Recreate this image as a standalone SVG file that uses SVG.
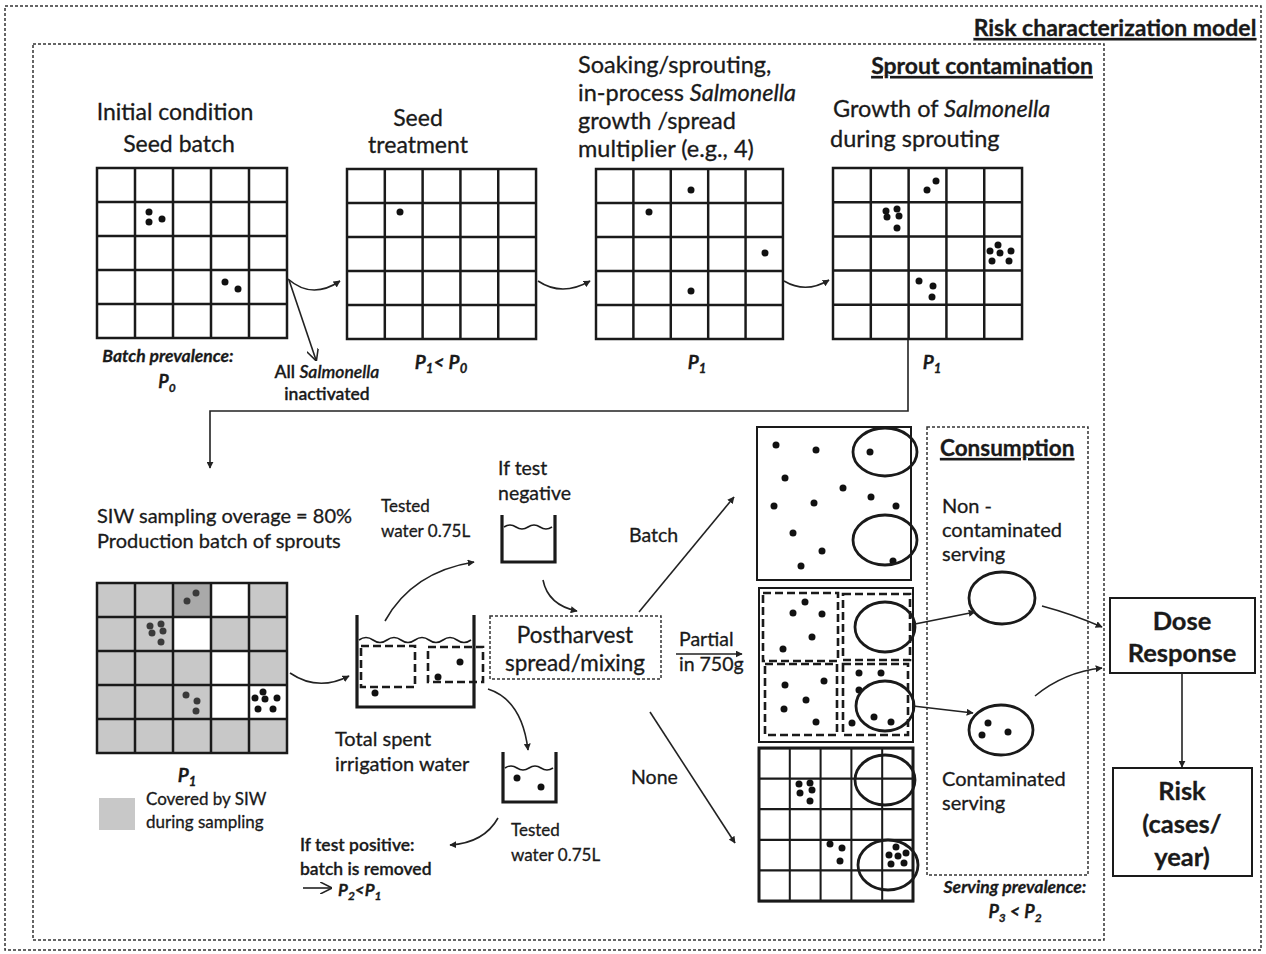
<svg xmlns="http://www.w3.org/2000/svg" width="1266" height="954" viewBox="0 0 1266 954">
<style>
text{font-family:Lato,"Liberation Sans",sans-serif;fill:#1a1a1a;stroke:#1a1a1a;stroke-width:0.3}
.t23{font-size:23.5px}
.t20{font-size:20px}
.t19{font-size:19.5px}
.t17{font-size:17px}
.bi{font-weight:bold;font-style:italic}
.b{font-weight:bold}
.sb{font-weight:600}
.it{font-style:italic}
.c{text-anchor:middle}
.u{text-decoration:underline}
.grid{fill:none;stroke:#1a1a1a;stroke-width:2.5}
.dot{fill:#111}
.gdot{fill:#3a3a3a}
.conn{fill:none;stroke:#222;stroke-width:1.6}
.dash{fill:none;stroke:#333;stroke-width:1.5;stroke-dasharray:3 2}
.bdash{fill:none;stroke:#1a1a1a;stroke-width:2.6;stroke-dasharray:8 4}
.ell{fill:none;stroke:#1a1a1a;stroke-width:2.8}
.wall{fill:none;stroke:#1a1a1a;stroke-width:3.2}
.wave{fill:none;stroke:#1a1a1a;stroke-width:1.6}
.box{fill:#fff;stroke:#1a1a1a;stroke-width:2}
.gray{fill:#c8c8c8}
</style>
<defs>
<marker id="arr" viewBox="0 0 10 10" refX="9" refY="5" markerWidth="7" markerHeight="7" orient="auto" markerUnits="userSpaceOnUse">
<path d="M0,0 L10,5 L0,10 z" fill="#222"/>
</marker>
<marker id="arrV" viewBox="0 0 10 10" refX="9" refY="5" markerWidth="12" markerHeight="12" orient="auto" markerUnits="userSpaceOnUse">
<path d="M0,0 L10,5 L0,10" fill="none" stroke="#222" stroke-width="1.3"/>
</marker>
<path id="g5" d="M0,0 H190 V170 H0 Z M38,0 V170 M76,0 V170 M114,0 V170 M152,0 V170 M0,34 H190 M0,68 H190 M0,102 H190 M0,136 H190"/>
</defs>
<rect width="1266" height="954" fill="#fff"/>

<g id="frames">
<rect x="5" y="6" width="1256" height="944" class="dash"/>
<rect x="33" y="44" width="1071" height="896" class="dash"/>
<text x="1115" y="36" class="b c u" font-size="23">Risk characterization model</text>
<text x="982" y="74" class="b c u" font-size="23">Sprout contamination</text>
</g>

<g id="initial">
<text x="175" y="120" class="c" font-size="23">Initial condition</text>
<text x="179" y="152" class="c" font-size="23">Seed batch</text>
<use href="#g5" class="grid" transform="translate(97,168)"/>
<circle cx="149" cy="212" r="3.5" class="dot"/><circle cx="149" cy="222" r="3.5" class="dot"/><circle cx="162" cy="219" r="3.5" class="dot"/>
<circle cx="225" cy="282" r="3.5" class="dot"/><circle cx="238" cy="289" r="3.5" class="dot"/>
<text x="168" y="362" class="bi c" font-size="17.5">Batch prevalence:</text>
<text x="167" y="388" class="bi c" font-size="18">P<tspan font-size="12" dy="4">0</tspan></text>
</g>

<g id="inactivated">
<text x="327" y="378" class="sb c" font-size="17.5">All <tspan class="it">Salmonella</tspan></text>
<text x="327" y="400" class="sb c" font-size="17.5">inactivated</text>
</g>

<g id="seed-treatment">
<text x="418" y="126" class="c" font-size="23">Seed</text>
<text x="418" y="153" class="c" font-size="23">treatment</text>
<use href="#g5" class="grid" transform="translate(347,169) scale(0.995,1)"/>
<circle cx="400" cy="212" r="3.5" class="dot"/>
<text x="441" y="369" class="bi c" font-size="19">P<tspan font-size="13" dy="4">1</tspan><tspan dy="-4">&lt; P</tspan><tspan font-size="13" dy="4">0</tspan></text>
</g>

<g id="soaking">
<text x="578" y="73" class="t23">Soaking/sprouting,</text>
<text x="578" y="101" class="t23">in-process <tspan class="it">Salmonella</tspan></text>
<text x="578" y="129" class="t23">growth /spread</text>
<text x="578" y="157" class="t23">multiplier (e.g., 4)</text>
<use href="#g5" class="grid" transform="translate(596,169) scale(0.984,1)"/>
<circle cx="691" cy="190" r="3.5" class="dot"/><circle cx="649" cy="212" r="3.5" class="dot"/>
<circle cx="765" cy="253" r="3.5" class="dot"/><circle cx="691" cy="291" r="3.5" class="dot"/>
<text x="697" y="369" class="bi c" font-size="19">P<tspan font-size="13" dy="4">1</tspan></text>
</g>

<g id="growth">
<text x="833" y="117" class="t23">Growth of <tspan class="it">Salmonella</tspan></text>
<text x="830" y="147" class="t23">during sprouting</text>
<use href="#g5" class="grid" transform="translate(833,168) scale(0.995,1.006)"/>
<circle cx="927" cy="190" r="3.5" class="dot"/><circle cx="936" cy="181" r="3.5" class="dot"/>
<circle cx="886" cy="211" r="3.5" class="dot"/><circle cx="897" cy="209" r="3.5" class="dot"/><circle cx="887" cy="217" r="3.5" class="dot"/><circle cx="899" cy="216" r="3.5" class="dot"/><circle cx="897" cy="228" r="3.5" class="dot"/>
<circle cx="998" cy="245" r="3.5" class="dot"/><circle cx="990" cy="251" r="3.5" class="dot"/><circle cx="1000" cy="253" r="3.5" class="dot"/><circle cx="1011" cy="251" r="3.5" class="dot"/><circle cx="992" cy="261" r="3.5" class="dot"/><circle cx="1009" cy="261" r="3.5" class="dot"/>
<circle cx="919" cy="281" r="3.5" class="dot"/><circle cx="933" cy="286" r="3.5" class="dot"/><circle cx="932" cy="297" r="3.5" class="dot"/>
<text x="932" y="369" class="bi c" font-size="19">P<tspan font-size="13" dy="4">1</tspan></text>
</g>

<g id="siw-batch">
<text x="97" y="523" class="t20">SIW sampling overage = 80%</text>
<text x="97" y="548" class="t20">Production batch of sprouts</text>
<rect x="97" y="583" width="190" height="170" class="gray"/>
<rect x="211" y="583" width="38" height="34" fill="#fff"/>
<rect x="173" y="617" width="38" height="34" fill="#fff"/>
<rect x="211" y="651" width="38" height="34" fill="#fff"/>
<rect x="211" y="685" width="76" height="34" fill="#fff"/>
<rect x="173" y="583" width="38" height="34" fill="#a9a9a9"/>
<use href="#g5" class="grid" transform="translate(97,583)"/>
<circle cx="196" cy="593" r="3.5" class="gdot"/><circle cx="187" cy="601" r="3.5" class="gdot"/>
<circle cx="150" cy="626" r="3.5" class="gdot"/><circle cx="161" cy="624" r="3.5" class="gdot"/><circle cx="152" cy="633" r="3.5" class="gdot"/><circle cx="163" cy="631" r="3.5" class="gdot"/><circle cx="161" cy="642" r="3.5" class="gdot"/>
<circle cx="186" cy="695" r="3.5" class="gdot"/><circle cx="197" cy="701" r="3.5" class="gdot"/><circle cx="196" cy="711" r="3.5" class="gdot"/>
<circle cx="263" cy="692" r="3.5" class="dot"/><circle cx="255" cy="698" r="3.5" class="dot"/><circle cx="265" cy="699" r="3.5" class="dot"/><circle cx="277" cy="698" r="3.5" class="dot"/><circle cx="258" cy="709" r="3.5" class="dot"/><circle cx="273" cy="709" r="3.5" class="dot"/>
<text x="187" y="782" class="bi c" font-size="19">P<tspan font-size="13" dy="4">1</tspan></text>
<rect x="99" y="798" width="36" height="32" class="gray"/>
<text x="146" y="805" class="t17">Covered by SIW</text>
<text x="146" y="828" class="t17">during sampling</text>
</g>

<g id="tank">
<rect x="361" y="646" width="54" height="41" class="bdash" stroke-width="2"/>
<rect x="428" y="647" width="55" height="35" class="bdash" stroke-width="2"/>
<path d="M357,615 V707 H474 V615" class="wall"/>
<path d="M359,640 q7,-5 14,0 t14,0 t14,0 t14,0 t14,0 t14,0 t14,0 t14,0" class="wave"/>
<circle cx="375" cy="693" r="3.5" class="dot"/><circle cx="460" cy="662" r="3.5" class="dot"/><circle cx="438" cy="677" r="3.5" class="dot"/>
<text x="335" y="746" class="t20">Total spent</text>
<text x="335" y="771" class="t20">irrigation water</text>
<text x="381" y="512" class="t17">Tested</text>
<text x="381" y="537" class="t17">water 0.75L</text>
</g>

<g id="beaker-negative">
<text x="498" y="475" class="t19">If test</text>
<text x="498" y="500" class="t19">negative</text>
<path d="M502,515 V562 H555 V515" class="wall"/>
<path d="M504,527 q6,-4 12,0 t12,0 t12,0 t12,0" class="wave"/>
</g>

<g id="beaker-positive">
<path d="M503,752 V802 H556 V752" class="wall"/>
<path d="M505,768 q6,-4 12,0 t12,0 t12,0 t12,0" class="wave"/>
<circle cx="517" cy="778" r="3.5" class="dot"/><circle cx="541" cy="787" r="3.5" class="dot"/>
<text x="511" y="836" class="t17">Tested</text>
<text x="511" y="861" class="t17">water 0.75L</text>
<text x="300" y="851" class="sb" font-size="17.5">If test positive:</text>
<text x="300" y="875" class="sb" font-size="17.5">batch is removed</text>
<text x="338" y="896" class="bi" font-size="17">P<tspan font-size="12" dy="4">2</tspan><tspan dy="-4">&lt;P</tspan><tspan font-size="12" dy="4">1</tspan></text>
</g>

<g id="postharvest">
<rect x="490" y="616" width="171" height="63" class="dash" fill="#fff"/>
<text x="575" y="643" class="c" font-size="22.5">Postharvest</text>
<text x="575" y="671" class="c" font-size="22.5">spread/mixing</text>
<text x="629" y="542" class="t19">Batch</text>
<text x="679" y="646" class="t19">Partial</text>
<text x="679" y="671" class="t19">in 750g</text>
<text x="631" y="784" class="t19">None</text>
</g>

<g id="box-batch">
<rect x="757" y="427" width="154" height="153" class="box" stroke-width="3"/>
<circle cx="776" cy="445" r="3.5" class="dot"/><circle cx="816" cy="450" r="3.5" class="dot"/><circle cx="785" cy="478" r="3.5" class="dot"/><circle cx="843" cy="488" r="3.5" class="dot"/><circle cx="871" cy="497" r="3.5" class="dot"/><circle cx="896" cy="506" r="3.5" class="dot"/><circle cx="774" cy="506" r="3.5" class="dot"/><circle cx="814" cy="503" r="3.5" class="dot"/><circle cx="793" cy="533" r="3.5" class="dot"/><circle cx="822" cy="551" r="3.5" class="dot"/><circle cx="801" cy="566" r="3.5" class="dot"/><circle cx="870" cy="452" r="3.5" class="dot"/><circle cx="893" cy="561" r="3.5" class="dot"/>
<ellipse cx="885" cy="452" rx="32" ry="24" class="ell"/>
<ellipse cx="885" cy="540" rx="32" ry="25" class="ell"/>
</g>

<g id="box-partial">
<rect x="759" y="588" width="154" height="154" class="box" stroke-width="3"/>
<rect x="763" y="593" width="75" height="68" class="bdash"/>
<rect x="843" y="594" width="67" height="66" class="bdash"/>
<rect x="765" y="664" width="72" height="71" class="bdash"/>
<rect x="843" y="664" width="65" height="71" class="bdash"/>
<circle cx="805" cy="602" r="3.5" class="dot"/><circle cx="793" cy="613" r="3.5" class="dot"/><circle cx="822" cy="614" r="3.5" class="dot"/><circle cx="812" cy="637" r="3.5" class="dot"/><circle cx="783" cy="649" r="3.5" class="dot"/>
<circle cx="824" cy="681" r="3.5" class="dot"/><circle cx="785" cy="685" r="3.5" class="dot"/><circle cx="806" cy="700" r="3.5" class="dot"/><circle cx="784" cy="709" r="3.5" class="dot"/><circle cx="816" cy="722" r="3.5" class="dot"/>
<circle cx="859" cy="673" r="3.5" class="dot"/><circle cx="881" cy="673" r="3.5" class="dot"/><circle cx="859" cy="690" r="3.5" class="dot"/><circle cx="852" cy="723" r="3.5" class="dot"/><circle cx="874" cy="717" r="3.5" class="dot"/><circle cx="891" cy="722" r="3.5" class="dot"/>
<ellipse cx="885" cy="627" rx="30" ry="25" class="ell"/>
<ellipse cx="885" cy="706" rx="29" ry="25" class="ell"/>
</g>

<g id="box-none">
<rect x="759" y="748" width="154" height="153" fill="#fff"/>
<use href="#g5" class="grid" transform="translate(759,748) scale(0.8105,0.9)" vector-effect="non-scaling-stroke" stroke-width="2.5"/>
<rect x="759" y="748" width="154" height="153" fill="none" stroke="#1a1a1a" stroke-width="3"/>
<circle cx="799" cy="784" r="3.5" class="dot"/><circle cx="810" cy="783" r="3.5" class="dot"/><circle cx="800" cy="793" r="3.5" class="dot"/><circle cx="812" cy="790" r="3.5" class="dot"/><circle cx="810" cy="801" r="3.5" class="dot"/>
<circle cx="830" cy="844" r="3.5" class="dot"/><circle cx="842" cy="848" r="3.5" class="dot"/><circle cx="840" cy="861" r="3.5" class="dot"/>
<circle cx="896" cy="847" r="3.5" class="dot"/><circle cx="889" cy="855" r="3.5" class="dot"/><circle cx="898" cy="856" r="3.5" class="dot"/><circle cx="906" cy="853" r="3.5" class="dot"/><circle cx="891" cy="864" r="3.5" class="dot"/><circle cx="904" cy="863" r="3.5" class="dot"/>
<ellipse cx="885" cy="780" rx="30" ry="25" class="ell"/>
<ellipse cx="888" cy="865" rx="30" ry="25" class="ell"/>
</g>

<g id="consumption">
<rect x="927" y="427" width="161" height="448" class="dash"/>
<text x="940" y="456" class="b u" font-size="22.5">Consumption</text>
<text x="942" y="513" class="t20">Non -</text>
<text x="942" y="537" class="t20">contaminated</text>
<text x="942" y="561" class="t20">serving</text>
<ellipse cx="1002" cy="598" rx="33" ry="26" class="ell" stroke-width="2.5"/>
<ellipse cx="1001" cy="730" rx="32" ry="25" class="ell" stroke-width="2.5"/>
<circle cx="988" cy="723" r="3.5" class="dot"/><circle cx="982" cy="735" r="3.5" class="dot"/><circle cx="1008" cy="732" r="3.5" class="dot"/>
<text x="942" y="786" class="t20">Contaminated</text>
<text x="942" y="810" class="t20">serving</text>
<text x="1015" y="893" class="bi c" font-size="17.5">Serving prevalence:</text>
<text x="1015" y="918" class="bi c" font-size="18">P<tspan font-size="12" dy="4">3</tspan><tspan dy="-4"> &lt; P</tspan><tspan font-size="12" dy="4">2</tspan></text>
</g>

<g id="dose-response">
<rect x="1110" y="598" width="145" height="75" class="box"/>
<text x="1182" y="630" class="b c" font-size="25.5">Dose</text>
<text x="1182" y="662" class="b c" font-size="25.5">Response</text>
</g>

<g id="risk">
<rect x="1113" y="768" width="139" height="108" class="box"/>
<text x="1182" y="800" class="b c" font-size="25.5">Risk</text>
<text x="1182" y="833" class="b c" font-size="25.5">(cases/</text>
<text x="1182" y="866" class="b c" font-size="25.5">year)</text>
</g>

<g id="connectors">
<path d="M288,279 Q312,300 340,281" class="conn" marker-end="url(#arr)"/>
<path d="M289,280 L316,360" class="conn" marker-end="url(#arrV)"/>
<path d="M538,281 Q562,297 590,281" class="conn" stroke-width="1.2" marker-end="url(#arr)"/>
<path d="M784,281 Q806,294 829,280" class="conn" stroke-width="1.2" marker-end="url(#arr)"/>
<path d="M908,340 V411 H210 V468" class="conn" marker-end="url(#arr)"/>
<path d="M290,673 Q318,692 349,676" class="conn" marker-end="url(#arr)"/>
<path d="M385,621 Q412,572 474,562" class="conn" marker-end="url(#arr)"/>
<path d="M488,689 Q522,700 528,750" class="conn" marker-end="url(#arr)"/>
<path d="M543,580 Q548,605 577,611" class="conn" marker-end="url(#arr)"/>
<path d="M498,818 Q484,843 450,845" class="conn" marker-end="url(#arr)"/>
<path d="M639,612 L734,497" class="conn" marker-end="url(#arr)"/>
<path d="M676,654 L742,654" class="conn" marker-end="url(#arr)"/>
<path d="M650,712 L735,843" class="conn" marker-end="url(#arr)"/>
<path d="M915,624 L975,612" class="conn" marker-end="url(#arr)"/>
<path d="M913,706 L973,713" class="conn" marker-end="url(#arr)"/>
<path d="M1042,606 Q1072,614 1102,627" class="conn" marker-end="url(#arr)"/>
<path d="M1035,696 Q1064,672 1102,668" class="conn" marker-end="url(#arr)"/>
<path d="M1182,673 V767" class="conn" marker-end="url(#arr)"/>
<path d="M303,888 L331,888" class="conn" marker-end="url(#arrV)"/>
</g>
</svg>
